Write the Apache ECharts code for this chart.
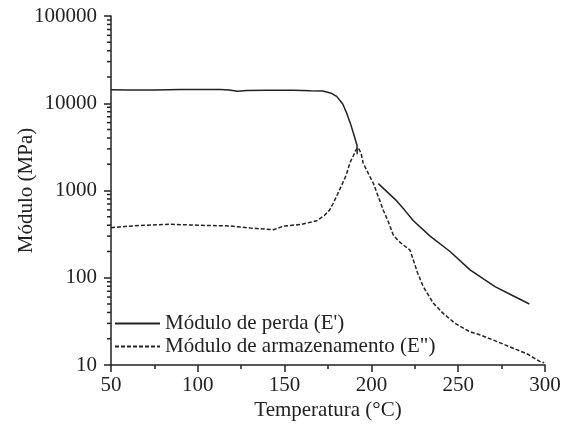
<!DOCTYPE html>
<html>
<head>
<meta charset="utf-8">
<script src="https://cdn.jsdelivr.net/npm/echarts@6/dist/echarts.min.js"></script>
<style>
    html, body { margin: 0; padding: 0; background: #fff; }
    #myChart { width: 563px; height: 425px; }
</style>
</head>
<body>
<div id="myChart"></div>
<script>
// 数据
var seriesNames = ["Módulo de perda (E')", 'Módulo de armazenamento (E")']
var xTicks = [50, 100, 150, 200, 250, 300]
var yTicks = [10, 100, 1000, 10000, 100000]
// minor ticks do eixo log: 2..9 x 10^k
var yMinorTicks = [20, 30, 40, 50, 60, 70, 80, 90,
    200, 300, 400, 500, 600, 700, 800, 900,
    2000, 3000, 4000, 5000, 6000, 7000, 8000, 9000,
    20000, 30000, 40000, 50000, 60000, 70000, 80000, 90000]

// E' (linha contínua) - '-' marca a interrupção
var tempE1 = [50, 60, 75, 90, 113, 118, 123, 128, 140, 155, 165, 172, 177, 180, 183.5, 186, 188, 190, 191.7, 191.8,
    198, 204, 214.6, 219, 224.2, 233.8, 245.3, 256.8, 271.2, 281, 291]
var valE1 = [14300, 14200, 14200, 14400, 14400, 14200, 13700, 14000, 14100, 14100, 13900, 13800, 13000, 12000, 9800, 7500, 5800, 4300, 3300, 2600,
    '-', 1200, 760, 600, 450, 300, 200, 123, 79, 63, 50]

// E'' (linha tracejada)
var tempE2 = [50, 60, 70, 84, 100, 118.5, 130, 143.5, 149.3, 160, 168.5, 173, 176, 178, 181, 183.8, 185.5, 187.7, 189.6, 191, 192.3,
    194, 195.3, 198, 201.1, 203.5, 206.8, 209.7, 212.6, 215.5, 218.4, 222.2, 224.2, 226.5, 229.9, 235.7, 241.4, 248.2, 256.8, 263, 270.2, 277, 283.7, 290, 297, 299.5]
var valE2 = [375, 390, 400, 410, 400, 392, 372, 355, 390, 410, 450, 520, 600, 713, 950, 1262, 1500, 2100, 2500, 2900, 3100,
    2700, 2050, 1600, 1210, 900, 598, 440, 309, 265, 237, 208, 159, 115, 79, 51, 39, 30, 24, 22, 19.3, 17, 15, 13.3, 11, 10.6]

function pairs(xs, ys) {
    return xs.map(function (x, i) { return [x, ys[i]] })
}

var fontFam = 'Liberation Serif'
var ink = '#222'

var myChart = echarts.init(document.getElementById('myChart'), null, { renderer: 'canvas' })
var option = {
    backgroundColor: '#fff',
    animation: false,
    grid: { left: 111, right: 18, top: 16, bottom: 60, outerBoundsMode: 'none', containLabel: false },
    legend: {
        data: seriesNames,
        orient: 'vertical',
        left: 109,
        top: 308,
        itemWidth: 45,
        itemHeight: 14,
        itemGap: 2,
        itemStyle: { opacity: 0 },
        textStyle: { fontFamily: fontFam, fontSize: 21, color: ink, lineHeight: 21 }
    },
    xAxis: {
        type: 'value',
        min: 50,
        max: 300,
        interval: 50,
        name: 'Temperatura (°C)',
        nameLocation: 'middle',
        nameGap: 35,
        nameMoveOverlap: false,
        nameTextStyle: { fontFamily: fontFam, fontSize: 21, color: ink },
        axisLine: { show: true, onZero: false, lineStyle: { color: ink, width: 1.5 } },
        axisTick: { show: true, inside: false, length: 7, lineStyle: { color: ink, width: 1.5 } },
        minorTick: { show: true, splitNumber: 2, length: 4, lineStyle: { color: ink, width: 1.5 } },
        axisLabel: {
            fontFamily: fontFam, fontSize: 21, color: ink, margin: 10,
            formatter: function (v) { return xTicks.indexOf(v) >= 0 ? String(v) : '' }
        },
        splitLine: { show: false }
    },
    yAxis: {
        type: 'log',
        logBase: 10,
        min: 10,
        max: 100000,
        name: 'Módulo (MPa)',
        nameLocation: 'middle',
        nameGap: 74,
        nameMoveOverlap: false,
        nameTextStyle: { fontFamily: fontFam, fontSize: 21, color: ink },
        axisLine: { show: true, lineStyle: { color: ink, width: 1.5 } },
        axisTick: { show: true, inside: false, length: 7, lineStyle: { color: ink, width: 1.5 } },
        axisLabel: {
            fontFamily: fontFam, fontSize: 21, color: ink, margin: 14,
            formatter: function (v) { return yTicks.indexOf(Math.round(v)) >= 0 ? String(Math.round(v)) : '' }
        },
        splitLine: { show: false }
    },
    series: [
        {
            name: seriesNames[0],
            type: 'line',
            data: pairs(tempE1, valE1),
            showSymbol: false,
            symbol: 'none',
            connectNulls: false,
            lineStyle: { color: ink, width: 1.5, type: 'solid' },
            itemStyle: { color: ink }
        },
        {
            name: seriesNames[1],
            type: 'line',
            data: pairs(tempE2, valE2),
            showSymbol: false,
            symbol: 'none',
            lineStyle: { color: ink, width: 1.5, type: [4, 2] },
            itemStyle: { color: ink }
        },
        {
            // minor ticks do eixo y (log)
            name: 'yMinor',
            type: 'custom',
            silent: true,
            clip: false,
            data: yMinorTicks.map(function (v) { return [50, v] }),
            renderItem: function (params, api) {
                var p = api.coord([api.value(0), api.value(1)])
                return {
                    type: 'line',
                    shape: { x1: p[0] - 4, y1: p[1], x2: p[0], y2: p[1] },
                    style: { stroke: ink, lineWidth: 1.5 }
                }
            }
        }
    ]
}
myChart.setOption(option)
</script>
</body>
</html>
